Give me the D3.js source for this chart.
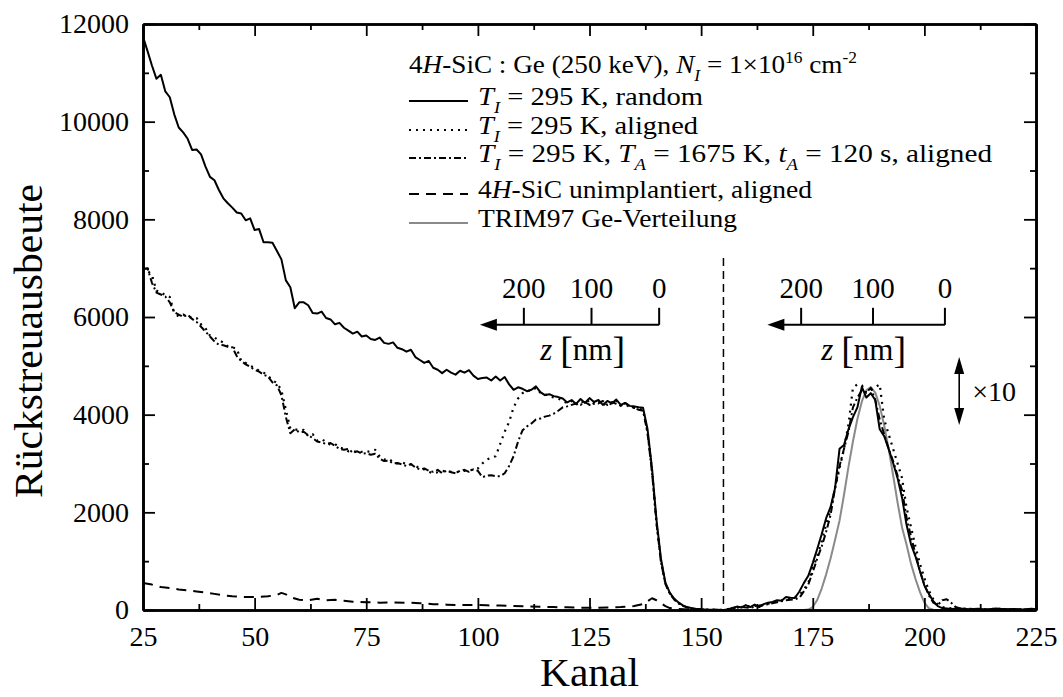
<!DOCTYPE html>
<html>
<head>
<meta charset="utf-8">
<script src="https://cdn.jsdelivr.net/npm/d3@7"></script>
<style>
  body { margin: 0; background: #fff; }
</style>
</head>
<body>
<svg id="chart" width="1063" height="697"></svg>
<script>
'use strict';

// Kanal / Rueckstreuausbeute (peak region already x10)
const randomTI295 = [[25,11740],[26,11450],[27,11150],[28,10880],[29,10960],[30,10620],[31,10500],[32,10150],[33,9880],[34,9780],[35,9650],[36,9420],[37,9430],[38,9330],[39,9080],[40,8870],[41,8800],[42,8600],[43,8430],[44,8330],[45,8240],[46,8140],[47,8120],[48,7980],[49,8020],[50,7780],[51,7800],[52,7530],[53,7530],[54,7520],[55,7350],[56,7180],[57,6750],[58,6610],[59,6180],[60,6300],[61,6300],[62,6240],[63,6080],[64,6070],[65,6110],[66,5980],[67,5950],[68,5850],[69,5880],[70,5780],[71,5720],[72,5660],[73,5700],[74,5600],[75,5620],[76,5550],[77,5530],[78,5580],[79,5470],[80,5450],[81,5480],[82,5370],[83,5340],[84,5290],[85,5330],[86,5180],[87,5120],[88,5060],[89,5100],[90,4960],[91,4920],[92,4850],[93,4920],[94,4860],[95,4820],[96,4900],[97,4860],[98,4910],[99,4800],[100,4730],[101,4750],[102,4760],[103,4700],[104,4780],[105,4700],[106,4770],[107,4620],[108,4510],[109,4560],[110,4530],[111,4480],[112,4510],[113,4580],[114,4460],[115,4400],[116,4420],[117,4380],[118,4360],[119,4330],[120,4250],[121,4300],[122,4220],[123,4320],[124,4240],[125,4340],[126,4260],[127,4300],[128,4200],[129,4280],[130,4230],[131,4310],[132,4200],[133,4240],[134,4180],[135,4170],[136,4150],[137,4140],[138,3700],[139,2900],[140,1850],[141,1050],[142,560],[143,350],[144,230],[145,150],[146,90],[147,55],[148,35],[149,20],[150,10],[152,5],[155,0],[156,10],[157,40],[158,70],[159,50],[160,100],[161,60],[162,110],[163,60],[164,120],[165,150],[166,165],[167,200],[168,190],[169,265],[170,250],[171,245],[172,380],[173,550],[174,700],[175,960],[176,1250],[177,1550],[178,1880],[179,2110],[180,2500],[181,3300],[182,3380],[183,3700],[184,3950],[185,4150],[186,4570],[187,4350],[188,4440],[189,4300],[190,3700],[191,3560],[192,3300],[193,3010],[194,2700],[195,2300],[196,1750],[197,1350],[198,1100],[199,800],[200,500],[201,330],[202,180],[203,80],[204,40],[205,30],[206,20],[208,30],[210,15],[212,25],[214,10],[216,30],[218,15],[220,20],[222,10],[224,25],[225,15]];

const alignedTI295 = [[25,7020],[26,6950],[27,6860],[28,6540],[29,6500],[30,6450],[31,6410],[32,6080],[33,6010],[34,6050],[35,6000],[36,5990],[37,5980],[38,5850],[39,5770],[40,5620],[41,5580],[42,5520],[43,5480],[44,5400],[45,5380],[46,5350],[47,5100],[48,5060],[49,5000],[50,4960],[51,4900],[52,4860],[53,4800],[54,4700],[55,4650],[56,4500],[57,4100],[58,3720],[59,3700],[60,3680],[61,3690],[62,3560],[63,3600],[64,3470],[65,3500],[66,3440],[67,3380],[68,3400],[69,3330],[70,3300],[71,3250],[72,3260],[73,3220],[74,3240],[75,3230],[76,3260],[77,3280],[78,3150],[79,3080],[80,3100],[81,3030],[82,3000],[83,3020],[84,2990],[85,2980],[86,2950],[87,2900],[88,2880],[89,2830],[90,2800],[91,2820],[92,2850],[93,2830],[94,2830],[95,2820],[96,2830],[97,2850],[98,2860],[99,2870],[100,2900],[101,3000],[102,3080],[103,3120],[104,3150],[105,3400],[106,3650],[107,3850],[108,4150],[109,4330],[110,4440],[111,4500],[112,4480],[113,4550],[114,4450],[115,4420],[116,4380],[117,4350],[118,4330],[119,4290],[120,4230],[121,4280],[122,4200],[123,4280],[124,4230],[125,4300],[126,4220],[127,4280],[128,4190],[129,4250],[130,4210],[131,4280],[132,4190],[133,4220],[134,4150],[135,4140],[136,4120],[137,4100],[138,3650],[139,2850],[140,1800],[141,1000],[142,540],[143,340],[144,220],[145,140],[146,80],[147,50],[148,30],[149,20],[150,10],[155,0],[156,20],[158,50],[160,70],[162,90],[163,60],[164,110],[166,150],[168,200],[170,230],[172,300],[173,420],[174,550],[175,850],[176,1100],[177,1400],[178,1750],[179,2050],[180,2500],[181,2900],[182,3300],[183,3800],[184,4550],[185,4620],[186,4600],[187,4450],[188,4500],[189,4560],[190,4620],[191,3900],[192,3600],[193,3300],[194,3000],[195,2700],[196,2100],[197,1700],[198,1300],[199,950],[200,650],[201,400],[202,220],[203,120],[204,60],[205,40],[207,30],[210,20],[213,10],[216,25],[220,10],[225,15]];

const annealedTA1675 = [[25,6980],[26,7000],[27,6700],[28,6500],[29,6460],[30,6420],[31,6300],[32,6100],[33,6050],[34,6000],[35,6050],[36,5960],[37,5900],[38,5800],[39,5700],[40,5600],[41,5500],[42,5430],[43,5420],[44,5390],[45,5380],[46,5200],[47,5100],[48,5030],[49,4980],[50,4920],[51,4880],[52,4820],[53,4780],[54,4660],[55,4600],[56,4400],[57,3950],[58,3620],[59,3700],[60,3640],[61,3650],[62,3580],[63,3520],[64,3450],[65,3430],[66,3400],[67,3420],[68,3360],[69,3300],[70,3280],[71,3300],[72,3220],[73,3250],[74,3200],[75,3210],[76,3180],[77,3200],[78,3100],[79,3050],[80,3060],[81,3000],[82,3010],[83,2980],[84,2950],[85,2990],[86,2920],[87,2880],[88,2900],[89,2850],[90,2830],[91,2870],[92,2800],[93,2860],[94,2820],[95,2800],[96,2850],[97,2870],[98,2830],[99,2880],[100,2850],[101,2720],[102,2750],[103,2760],[104,2740],[105,2740],[106,2800],[107,2950],[108,3150],[109,3450],[110,3680],[111,3760],[112,3820],[113,3900],[114,3920],[115,3960],[116,3980],[117,4020],[118,4080],[119,4150],[120,4170],[121,4200],[122,4230],[123,4200],[124,4260],[125,4200],[126,4250],[127,4230],[128,4280],[129,4200],[130,4260],[131,4220],[132,4180],[133,4240],[134,4170],[135,4140],[136,4100],[137,4080],[138,3620],[139,2820],[140,1780],[141,990],[142,530],[143,330],[144,210],[145,130],[146,80],[147,50],[148,30],[149,20],[150,10],[155,0],[157,30],[159,60],[161,40],[163,90],[165,120],[167,160],[169,200],[171,220],[172,250],[173,380],[174,520],[175,780],[176,1050],[177,1300],[178,1600],[179,1950],[180,2500],[181,2950],[182,3300],[183,3650],[184,4150],[185,4350],[186,4500],[187,4450],[188,4550],[189,4300],[190,3900],[191,3600],[192,3300],[193,3050],[194,2750],[195,2450],[196,1900],[197,1500],[198,1150],[199,800],[200,520],[201,300],[202,150],[203,100],[204,200],[205,220],[206,150],[207,60],[208,30],[211,20],[214,10],[218,20],[222,10],[225,15]];

const unimplanted = [[25,555],[27,520],[29,470],[31,450],[33,420],[35,400],[37,380],[39,360],[41,330],[43,300],[45,280],[47,270],[49,265],[51,270],[53,280],[55,310],[56,350],[57,320],[58,260],[60,210],[62,200],[64,230],[66,200],[68,210],[70,190],[72,170],[75,160],[78,150],[81,155],[84,150],[87,140],[90,120],[93,110],[96,100],[99,105],[102,95],[105,90],[108,80],[111,75],[114,65],[117,60],[120,55],[123,45],[126,45],[129,50],[132,60],[135,80],[137,120],[138,180],[139,240],[140,200],[141,140],[142,80],[143,40],[145,20],[148,10],[152,5],[155,0]];

const trim97 = [[170,0],[173,0],[174,10],[175,60],[176,205],[177,440],[178,730],[179,1060],[180,1440],[181,1830],[182,2360],[183,2930],[184,3450],[185,3910],[186,4270],[187,4500],[188,4565],[189,4450],[190,4180],[191,3780],[192,3300],[193,2760],[194,2200],[195,1690],[196,1340],[197,950],[198,640],[199,370],[200,150],[201,35],[202,5],[203,0],[206,0]];

const kanalTicks = [25, 50, 75, 100, 125, 150, 175, 200, 225];
const kanalMinor = [37.5, 62.5, 87.5, 112.5, 137.5, 162.5, 187.5, 212.5];
const countTicks = [0, 2000, 4000, 6000, 8000, 10000, 12000];
const countMinor = [1000, 3000, 5000, 7000, 9000, 11000];
const depthTicks = [0, 100, 200];   // nm

const FONT = "'Liberation Serif'";
const svg = d3.select('#chart').attr('font-family', FONT);
const m = {left: 143, right: 1036, top: 24, bottom: 610};

const x = d3.scaleLinear().domain([25, 225]).range([m.left, m.right]);
const y = d3.scaleLinear().domain([0, 12000]).range([m.bottom, m.top]);

// depth axes of the two insets (nm -> Kanal), surface at 0 nm
const depthSi = d3.scaleLinear().domain([0, 200]).range([140.6, 110.3]);
const depthGe = d3.scaleLinear().domain([0, 200]).range([204.6, 172.4]);

function label(parent) {
  return parent.append('text').attr('font-family', FONT).attr('fill', '#000');
}

// series lines
const line = d3.line().x(d => x(d[0])).y(d => y(d[1]));
const series = [
  {data: unimplanted, dash: '10,7', color: '#000', w: 2},
  {data: trim97, dash: null, color: '#8a8a8a', w: 2},
  {data: annealedTA1675, dash: '7,3,2,3', color: '#000', w: 2},
  {data: alignedTI295, dash: '2,5', color: '#000', w: 2.2},
  {data: randomTI295, dash: null, color: '#000', w: 2}
];
for (const s of series) {
  svg.append('path')
    .attr('d', line(s.data))
    .attr('fill', 'none')
    .attr('stroke', s.color)
    .attr('stroke-width', s.w)
    .attr('stroke-linejoin', 'round')
    .attr('stroke-dasharray', s.dash);
}

// separator between matrix and Ge signal
svg.append('line')
  .attr('x1', x(155)).attr('x2', x(155))
  .attr('y1', y(7210)).attr('y2', y(0))
  .attr('stroke', '#000').attr('stroke-width', 1.5)
  .attr('stroke-dasharray', '8,5');

// axes, ticks pointing inward
function styleAxis(g) {
  g.attr('font-family', FONT).attr('font-size', 28);
  g.selectAll('text').attr('font-family', FONT);
  g.select('.domain').attr('stroke-width', 2.6);
  g.selectAll('.tick line').attr('stroke-width', 1.8);
}

svg.append('g').attr('transform', `translate(0,${m.bottom})`)
  .call(d3.axisBottom(x).tickValues(kanalTicks).tickSize(-12).tickSizeOuter(0).tickPadding(16).tickFormat(d3.format('d')))
  .call(styleAxis);
svg.append('g').attr('transform', `translate(0,${m.bottom})`)
  .call(d3.axisBottom(x).tickValues(kanalMinor).tickSize(-6).tickSizeOuter(0).tickFormat(''))
  .call(styleAxis);
svg.append('g').attr('transform', `translate(0,${m.top})`)
  .call(d3.axisTop(x).tickValues(kanalTicks).tickSize(-12).tickSizeOuter(0).tickFormat(''))
  .call(styleAxis);
svg.append('g').attr('transform', `translate(0,${m.top})`)
  .call(d3.axisTop(x).tickValues(kanalMinor).tickSize(-6).tickSizeOuter(0).tickFormat(''))
  .call(styleAxis);
svg.append('g').attr('transform', `translate(${m.left},0)`)
  .call(d3.axisLeft(y).tickValues(countTicks).tickSize(-12).tickSizeOuter(0).tickPadding(14).tickFormat(d3.format('d')))
  .call(styleAxis);
svg.append('g').attr('transform', `translate(${m.left},0)`)
  .call(d3.axisLeft(y).tickValues(countMinor).tickSize(-6).tickSizeOuter(0).tickFormat(''))
  .call(styleAxis);
svg.append('g').attr('transform', `translate(${m.right},0)`)
  .call(d3.axisRight(y).tickValues(countTicks).tickSize(-12).tickSizeOuter(0).tickFormat(''))
  .call(styleAxis);
svg.append('g').attr('transform', `translate(${m.right},0)`)
  .call(d3.axisRight(y).tickValues(countMinor).tickSize(-6).tickSizeOuter(0).tickFormat(''))
  .call(styleAxis);

// axis titles
label(svg)
  .attr('x', (m.left + m.right) / 2).attr('y', 686)
  .attr('text-anchor', 'middle').attr('font-size', 40)
  .attr('textLength', 99).attr('lengthAdjust', 'spacingAndGlyphs')
  .text('Kanal');
label(svg)
  .attr('transform', 'translate(42,341) rotate(-90)')
  .attr('text-anchor', 'middle').attr('font-size', 40)
  .attr('textLength', 314).attr('lengthAdjust', 'spacingAndGlyphs')
  .text('Rückstreuausbeute');

// depth scale insets
function depthInset(depth, arrowNm, level) {
  const g = svg.append('g');
  const y0 = y(level);
  const xs = x(depth(0)), xe = x(depth(arrowNm));
  g.append('line').attr('x1', xs).attr('x2', xe + 12).attr('y1', y0).attr('y2', y0)
    .attr('stroke', '#000').attr('stroke-width', 2);
  g.append('path')
    .attr('d', `M${xe},${y0}L${xe + 17},${y0 - 6}L${xe + 17},${y0 + 6}Z`)
    .attr('fill', '#000');
  for (const d of depthTicks) {
    g.append('line').attr('x1', x(depth(d))).attr('x2', x(depth(d)))
      .attr('y1', y0).attr('y2', y0 - 17)
      .attr('stroke', '#000').attr('stroke-width', 2);
    label(g).attr('x', x(depth(d))).attr('y', y0 - 27)
      .attr('text-anchor', 'middle').attr('font-size', 29).text(d);
  }
  const t = label(g).attr('x', x(depth(113))).attr('y', y0 + 35)
    .attr('text-anchor', 'middle').attr('font-size', 31);
  t.append('tspan').attr('font-style', 'italic').text('z ');
  t.append('tspan').attr('font-size', 38).attr('dy', 3).text('[');
  t.append('tspan').attr('dy', -3).text('nm');
  t.append('tspan').attr('font-size', 38).attr('dy', 3).text(']');
}
depthInset(depthSi, 265, 5840);
depthInset(depthGe, 247, 5840);

// x10 marker for the Ge signal
{
  const xa = x(207.8), ya = y(5180), yb = y(3790);
  svg.append('line').attr('x1', xa).attr('x2', xa).attr('y1', ya + 10).attr('y2', yb - 10)
    .attr('stroke', '#000').attr('stroke-width', 1.6);
  svg.append('path').attr('d', `M${xa},${ya}L${xa - 5},${ya + 17}L${xa + 5},${ya + 17}Z`).attr('fill', '#000');
  svg.append('path').attr('d', `M${xa},${yb}L${xa - 5},${yb - 17}L${xa + 5},${yb - 17}Z`).attr('fill', '#000');
  label(svg).attr('x', xa + 13).attr('y', (ya + yb) / 2 + 10)
    .attr('font-size', 28).text('×10');
}

// legend; width = measured width of each line in the figure
const legendRows = [
  {base: 73, width: 448, sample: null, parts: [['4'], ['H', 'i'], ['-SiC : Ge (250 keV), '], ['N', 'i'], ['I', 'sub'], [' = 1×10'], ['16', 'sup'], [' cm'], ['-2', 'sup']]},
  {base: 105, width: 225, sample: {dash: null, color: '#000', w: 2}, parts: [['T', 'i'], ['I', 'sub'], [' = 295 K, random']]},
  {base: 134, width: 220, sample: {dash: '2,5', color: '#000', w: 2.2}, parts: [['T', 'i'], ['I', 'sub'], [' = 295 K, aligned']]},
  {base: 162, width: 514, sample: {dash: '7,3,2,3', color: '#000', w: 2}, parts: [['T', 'i'], ['I', 'sub'], [' = 295 K, '], ['T', 'i'], ['A', 'sub'], [' = 1675 K, '], ['t', 'i'], ['A', 'sub'], [' = 120 s, aligned']]},
  {base: 198, width: 334, sample: {dash: '10,7', color: '#000', w: 2}, parts: [['4'], ['H', 'i'], ['-SiC unimplantiert, aligned']]},
  {base: 227, width: 259, sample: {dash: null, color: '#8a8a8a', w: 2}, parts: [['TRIM97 Ge-Verteilung']]}
];
const legendFont = 25;
for (const row of legendRows) {
  const tx = row.sample ? 478 : 409;
  if (row.sample) {
    svg.append('line').attr('x1', 409).attr('x2', 468)
      .attr('y1', row.base - 4).attr('y2', row.base - 4)
      .attr('stroke', row.sample.color).attr('stroke-width', row.sample.w)
      .attr('stroke-dasharray', row.sample.dash);
  }
  const t = label(svg).attr('x', tx).attr('y', row.base).attr('font-size', legendFont)
    .attr('textLength', row.width).attr('lengthAdjust', 'spacingAndGlyphs');
  let off = 0;
  for (const [s, kind] of row.parts) {
    let target = 0, fs = legendFont, italic = false;
    if (kind === 'i') italic = true;
    if (kind === 'sub') { target = 8; fs = 16; italic = true; }
    if (kind === 'sup') { target = -10; fs = 16; }
    t.append('tspan')
      .attr('dy', target - off)
      .attr('font-size', fs)
      .attr('font-style', italic ? 'italic' : null)
      .text(s);
    off = target;
  }
}
</script>
</body>
</html>
